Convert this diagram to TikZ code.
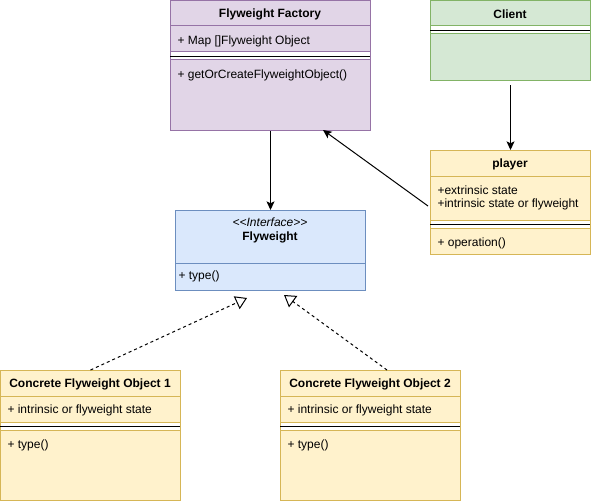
\documentclass[tikz,border=0pt]{standalone}
\usepackage{fontspec}
\setmainfont{Liberation Sans}
\usetikzlibrary{arrows.meta}

\definecolor{factfill}{HTML}{E1D5E7}
\definecolor{factline}{HTML}{9673A6}
\definecolor{clientfill}{HTML}{D5E8D4}
\definecolor{clientline}{HTML}{82B366}
\definecolor{ifacefill}{HTML}{DAE8FC}
\definecolor{ifaceline}{HTML}{6C8EBF}
\definecolor{objfill}{HTML}{FFF2CC}
\definecolor{objline}{HTML}{D6B656}

\tikzset{every picture/.style={line width=0.75pt}}
\tikzset{
  classbox/.style={rectangle, anchor=north west, inner sep=0pt},
  classtitle/.style={inner sep=0.75pt, font=\fontsize{9}{11}\selectfont\bfseries},
  member/.style={anchor=west, inner sep=0.75pt, align=left, font=\fontsize{9}{11}\selectfont},
  assoc/.style={-{Stealth[length=6.5pt,width=6pt,inset=1.5pt]}},
  realize/.style={dash pattern=on 2.25pt off 2.25pt, -{Triangle[open,length=8.5pt,width=10.5pt]}},
}

\begin{document}
\begin{tikzpicture}[x=0.75pt,y=0.75pt,yscale=-1]
\useasboundingbox (0,0) rectangle (591,503);

%Shape: Rectangle [Flyweight Factory]
\node (factory) [classbox, draw=factline, fill=factfill, minimum width=150pt, minimum height=97.5pt] at (170,0) {};
\draw [factline] (170,26) -- (370,26) ;
\draw [factline] (170,52) -- (370,52) ;
\fill [white] (170.5,52.5) rectangle (369.5,60) ;
\draw [factline] (170,60) -- (370,60) ;
\draw (170,56.5) -- (370,56.5) ;
%Shape: Rectangle [Client]
\node (client) [classbox, draw=clientline, fill=clientfill, minimum width=120pt, minimum height=60pt] at (430,0) {};
\draw [clientline] (430,26) -- (590,26) ;
\fill [white] (430.5,26.5) rectangle (589.5,34) ;
\draw [clientline] (430,34) -- (590,34) ;
\draw (430,30.5) -- (590,30.5) ;
%Shape: Rectangle [player]
\node (player) [classbox, draw=objline, fill=objfill, minimum width=120pt, minimum height=78pt] at (430,150) {};
\draw [objline] (430,176) -- (590,176) ;
\draw [objline] (430,220) -- (590,220) ;
\fill [white] (430.5,220.5) rectangle (589.5,228) ;
\draw [objline] (430,228) -- (590,228) ;
\draw (430,224.5) -- (590,224.5) ;
%Shape: Rectangle [Flyweight]
\node (flyweight) [classbox, draw=ifaceline, fill=ifacefill, minimum width=142.5pt, minimum height=60pt] at (175,210) {};
\draw [ifaceline] (175,263) -- (365,263) ;
%Shape: Rectangle [Concrete Flyweight Object 1]
\node (concrete1) [classbox, draw=objline, fill=objfill, minimum width=135pt, minimum height=97.5pt] at (0,370) {};
\draw [objline] (0,396) -- (180,396) ;
\draw [objline] (0,422) -- (180,422) ;
\fill [white] (0.5,422.5) rectangle (179.5,430) ;
\draw [objline] (0,430) -- (180,430) ;
\draw (0,426.5) -- (180,426.5) ;
%Shape: Rectangle [Concrete Flyweight Object 2]
\node (concrete2) [classbox, draw=objline, fill=objfill, minimum width=135pt, minimum height=97.5pt] at (280,370) {};
\draw [objline] (280,396) -- (460,396) ;
\draw [objline] (280,422) -- (460,422) ;
\fill [white] (280.5,422.5) rectangle (459.5,430) ;
\draw [objline] (280,430) -- (460,430) ;
\draw (280,426.5) -- (460,426.5) ;

% Text Node
\node (factory-t) [classtitle] at (270,14.5) {Flyweight Factory};
% Text Node
\node (factory-a) [member] at (176,41) {+ Map []Flyweight Object};
% Text Node
\node (factory-m) [member] at (176,75) {+ getOrCreateFlyweightObject()};
% Text Node
\node (client-t) [classtitle] at (510,14.5) {Client};
% Text Node
\node (player-t) [classtitle] at (510,164.5) {player};
% Text Node
\node (player-a) [member, font=\fontsize{9}{9.75}\selectfont] at (436,198) {+extrinsic state\\+intrinsic state or flyweight};
% Text Node
\node (player-m) [member] at (436,243) {+ operation()};
% Text Node
\node (flyweight-s) [inner sep=0.75pt, font=\fontsize{9}{11}\selectfont\itshape] at (270,222.5) {<{}<Interface>{}>};
% Text Node
\node (flyweight-t) [classtitle] at (270,237.5) {Flyweight};
% Text Node
\node (flyweight-m) [member] at (177,276) {+ type()};
% Text Node
\node (concrete1-t) [classtitle] at (90,384.5) {Concrete Flyweight Object 1};
% Text Node
\node (concrete1-a) [member] at (6,410.5) {+ intrinsic or flyweight state};
% Text Node
\node (concrete1-m) [member] at (6,445) {+ type()};
% Text Node
\node (concrete2-t) [classtitle] at (370,384.5) {Concrete Flyweight Object 2};
% Text Node
\node (concrete2-a) [member] at (286,410.5) {+ intrinsic or flyweight state};
% Text Node
\node (concrete2-m) [member] at (286,445) {+ type()};

% end points of the slanted connectors
\coordinate (player-out) at (428,206);
\coordinate (factory-in) at (323,130);
\coordinate (concrete2-out) at (387,370);
\coordinate (flyweight-in1) at (247,298);
\coordinate (flyweight-in2) at (284,295);

%Straight Lines
\draw [assoc, shorten <=3pt] (client.south) -- (player.north) ;
\draw [assoc] (factory.south) -- (flyweight.north) ;
\draw [assoc] (player-out) -- (factory-in) ;
%Dashed Lines
\draw [realize] (concrete1.north) -- (flyweight-in1) ;
\draw [realize] (concrete2-out) -- (flyweight-in2) ;

\end{tikzpicture}
\end{document}
